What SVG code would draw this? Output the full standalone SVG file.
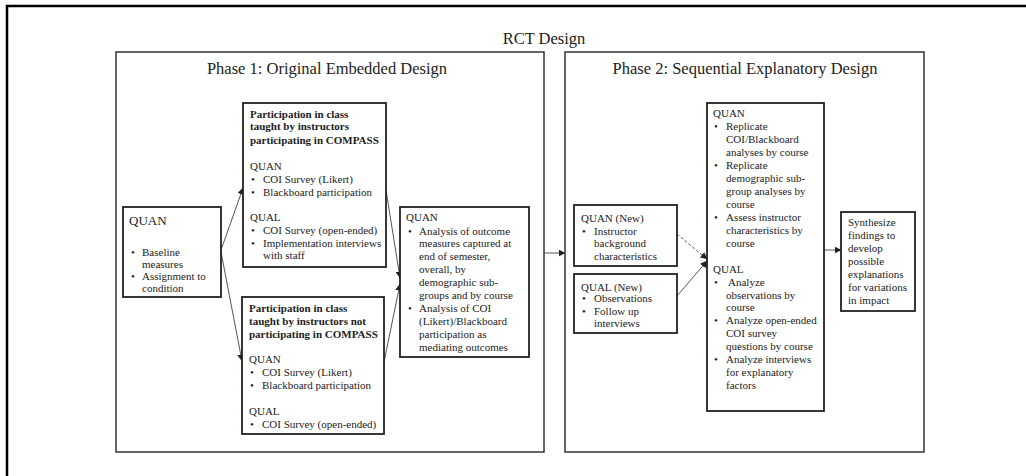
<svg xmlns="http://www.w3.org/2000/svg" width="1026" height="476" viewBox="0 0 1026 476">
<defs>
<style>
text{font-family:"Liberation Serif","Times New Roman",serif;fill:#222;}
.t{font-size:11px;}
.b{font-size:11px;font-weight:bold;}
.h{font-size:16.5px;}
.q{font-size:13px;}
.box{fill:#fff;stroke:#222;stroke-width:1.8;}
.phase{fill:none;stroke:#333;stroke-width:1.5;}
.c{stroke:#555;stroke-width:1;fill:none;marker-end:url(#ah);}
</style>
<marker id="ah" markerWidth="7" markerHeight="7" refX="6.5" refY="3.5" orient="auto" markerUnits="userSpaceOnUse">
<path d="M0,0 L7,3.5 L0,7 z" fill="#222"/>
</marker>
</defs>
<rect width="1026" height="476" fill="#fff"/>
<g id="frame">
<path d="M7,476 V6 H1026" fill="none" stroke="#000" stroke-width="2.5"/>
<text class="h" x="544" y="44" text-anchor="middle">RCT Design</text>
</g>
<g id="phase1">
<rect class="phase" x="116" y="52" width="428" height="400"/>
<text class="h" x="327" y="74" text-anchor="middle">Phase 1: Original Embedded Design</text>
</g>
<g id="phase2">
<rect class="phase" x="565" y="52" width="359" height="400"/>
<text class="h" x="745" y="74" text-anchor="middle">Phase 2: Sequential Explanatory Design</text>
</g>
<g id="connectors">
<line class="c" x1="221" y1="250" x2="243" y2="188"/>
<line class="c" x1="221" y1="252" x2="242" y2="361"/>
<line class="c" x1="386" y1="190" x2="400" y2="278"/>
<line class="c" x1="384" y1="362" x2="400" y2="284"/>
<line class="c" x1="544" y1="253" x2="565" y2="253"/>
<line class="c" x1="677" y1="234" x2="707" y2="259" stroke-dasharray="3,2"/>
<line class="c" x1="677" y1="296" x2="707" y2="261"/>
<line class="c" x1="824" y1="250" x2="841" y2="250"/>
</g>
<g id="quan-baseline">
<rect class="box" x="123" y="207" width="98" height="90"/>
<text class="q" x="129" y="225">QUAN</text>
<text class="t" x="131" y="256">•</text><text class="t" x="142" y="256">Baseline</text>
<text class="t" x="142" y="268">measures</text>
<text class="t" x="131" y="280">•</text><text class="t" x="142" y="280">Assignment to</text>
<text class="t" x="142" y="292">condition</text>
</g>
<g id="compass">
<rect class="box" x="243" y="103" width="143" height="164"/>
<text class="b" x="250" y="118">Participation in class</text>
<text class="b" x="250" y="130">taught by instructors</text>
<text class="b" x="250" y="144">participating in COMPASS</text>
<text class="t" x="250" y="170">QUAN</text>
<text class="t" x="251" y="183">•</text><text class="t" x="263" y="183">COI Survey (Likert)</text>
<text class="t" x="251" y="196">•</text><text class="t" x="263" y="196">Blackboard participation</text>
<text class="t" x="250" y="221">QUAL</text>
<text class="t" x="251" y="234">•</text><text class="t" x="263" y="234">COI Survey (open-ended)</text>
<text class="t" x="251" y="247">•</text><text class="t" x="263" y="247">Implementation interviews</text>
<text class="t" x="263" y="259">with staff</text>
</g>
<g id="non-compass">
<rect class="box" x="242" y="297" width="142" height="137"/>
<text class="b" x="249" y="312">Participation in class</text>
<text class="b" x="249" y="325">taught by instructors not</text>
<text class="b" x="249" y="338">participating in COMPASS</text>
<text class="t" x="249" y="363">QUAN</text>
<text class="t" x="250" y="376">•</text><text class="t" x="262" y="376">COI Survey (Likert)</text>
<text class="t" x="250" y="389">•</text><text class="t" x="262" y="389">Blackboard participation</text>
<text class="t" x="249" y="415">QUAL</text>
<text class="t" x="250" y="428">•</text><text class="t" x="262" y="428">COI Survey (open-ended)</text>
</g>
<g id="analysis">
<rect class="box" x="400" y="207" width="129" height="150"/>
<text class="t" x="406" y="221">QUAN</text>
<text class="t" x="408" y="235">•</text><text class="t" x="419" y="235">Analysis of outcome</text>
<text class="t" x="419" y="247">measures captured at</text>
<text class="t" x="419" y="260">end of semester,</text>
<text class="t" x="419" y="273">overall, by</text>
<text class="t" x="419" y="286">demographic sub-</text>
<text class="t" x="419" y="299">groups and by course</text>
<text class="t" x="408" y="312">•</text><text class="t" x="419" y="312">Analysis of COI</text>
<text class="t" x="419" y="325">(Likert)/Blackboard</text>
<text class="t" x="419" y="338">participation as</text>
<text class="t" x="419" y="351">mediating outcomes</text>
</g>
<g id="quan-new">
<rect class="box" x="574" y="205" width="103" height="61"/>
<text class="t" x="581" y="222">QUAN (New)</text>
<text class="t" x="582" y="235">•</text><text class="t" x="594" y="235">Instructor</text>
<text class="t" x="594" y="247">background</text>
<text class="t" x="594" y="260">characteristics</text>
</g>
<g id="qual-new">
<rect class="box" x="574" y="274" width="103" height="59"/>
<text class="t" x="581" y="291">QUAL (New)</text>
<text class="t" x="582" y="302">•</text><text class="t" x="594" y="302">Observations</text>
<text class="t" x="582" y="315">•</text><text class="t" x="594" y="315">Follow up</text>
<text class="t" x="594" y="327">interviews</text>
</g>
<g id="phase2-analysis">
<rect class="box" x="707" y="103" width="117" height="308"/>
<text class="t" x="713" y="117">QUAN</text>
<text class="t" x="714" y="130">•</text><text class="t" x="726" y="130">Replicate</text>
<text class="t" x="726" y="143">COI/Blackboard</text>
<text class="t" x="726" y="156">analyses by course</text>
<text class="t" x="714" y="169">•</text><text class="t" x="726" y="169">Replicate</text>
<text class="t" x="726" y="182">demographic sub-</text>
<text class="t" x="726" y="195">group analyses by</text>
<text class="t" x="726" y="208">course</text>
<text class="t" x="714" y="221">•</text><text class="t" x="726" y="221">Assess instructor</text>
<text class="t" x="726" y="234">characteristics by</text>
<text class="t" x="726" y="247">course</text>
<text class="t" x="713" y="273">QUAL</text>
<text class="t" x="714" y="286">•</text><text class="t" x="728" y="286">Analyze</text>
<text class="t" x="726" y="299">observations by</text>
<text class="t" x="726" y="311">course</text>
<text class="t" x="714" y="324">•</text><text class="t" x="726" y="324">Analyze open-ended</text>
<text class="t" x="726" y="337">COI survey</text>
<text class="t" x="726" y="350">questions by course</text>
<text class="t" x="714" y="363">•</text><text class="t" x="726" y="363">Analyze interviews</text>
<text class="t" x="726" y="376">for explanatory</text>
<text class="t" x="726" y="389">factors</text>
</g>
<g id="synthesize">
<rect class="box" x="841" y="212" width="74" height="99"/>
<text class="t" x="848" y="226">Synthesize</text>
<text class="t" x="848" y="239">findings to</text>
<text class="t" x="848" y="252">develop</text>
<text class="t" x="848" y="265">possible</text>
<text class="t" x="848" y="278">explanations</text>
<text class="t" x="848" y="291">for variations</text>
<text class="t" x="848" y="304">in impact</text>
</g>
</svg>
